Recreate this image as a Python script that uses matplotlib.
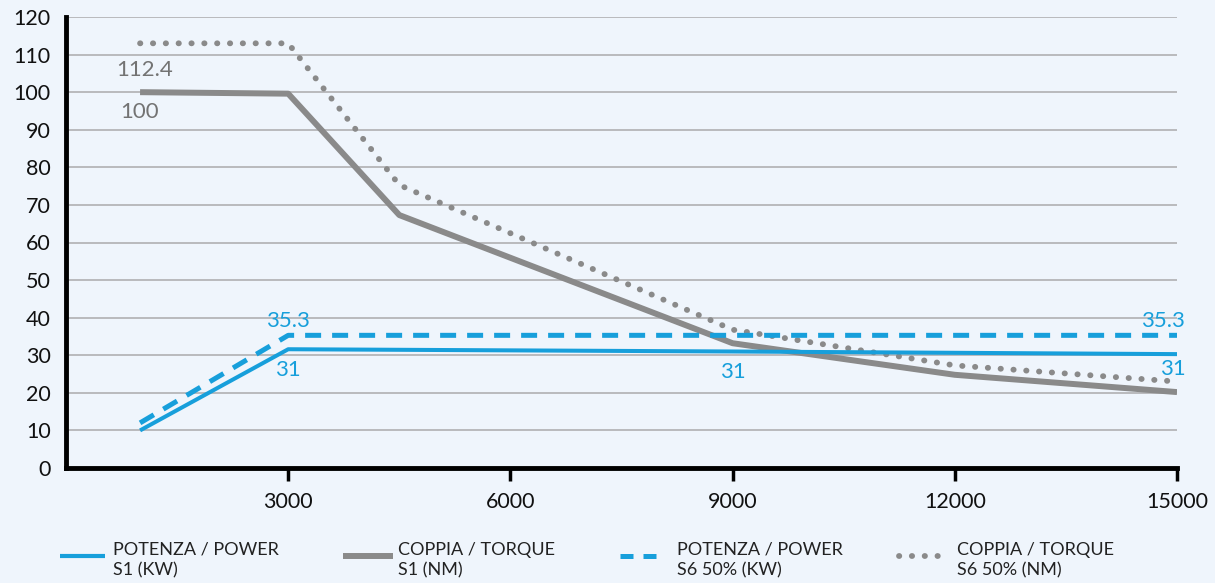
import matplotlib
matplotlib.use("Agg")
import matplotlib.pyplot as plt
from matplotlib.lines import Line2D

plt.rcParams['font.family'] = ['Lato', 'DejaVu Sans']

# ---- data ----
rpm_power_s1 = [1000, 3000, 9000, 15000]
power_s1 = [10, 31.6, 31, 30.3]
rpm_power_s6 = [1000, 3000, 15000]
power_s6 = [12, 35.3, 35.3]
rpm_torque = [1000, 3000, 4500, 9000, 12000, 15000]
torque_s1 = [100, 99.6, 67.3, 33.2, 24.8, 20.2]
torque_s6 = [113, 113, 75.3, 36.8, 27.3, 23]
x_ticks = [3000, 6000, 9000, 12000, 15000]
y_ticks = list(range(0, 121, 10))
legend_labels = ["POTENZA / POWER\nS1 (KW)", "COPPIA / TORQUE\nS1 (NM)",
                 "POTENZA / POWER\nS6 50% (KW)", "COPPIA / TORQUE\nS6 50% (NM)"]
annotations = [  # (x, y, text, series)
    (1000, 113, "112.4", "gray"), (1000, 100, "100", "gray"),
    (3000, 35.3, "35.3", "blue"), (3000, 31.6, "31", "blue"),
    (9000, 31, "31", "blue"), (15000, 35.3, "35.3", "blue"), (15000, 30.3, "31", "blue"),
]

BLUE = "#179fdb"
GRAY = "#8a8a8a"
LGRAY = "#737373"
BG = "#eff5fc"

fig = plt.figure(figsize=(12.15, 5.83), dpi=100, facecolor=BG)
ax = fig.add_axes([66/1215, (583-468)/583, (1177-66)/1215, (468-17)/583])
ax.set_facecolor(BG)

ax.set_xlim(0, 15000)
ax.set_ylim(0, 120)
ax.set_yticks(y_ticks)
ax.set_xticks(x_ticks)
ax.grid(axis='y', color='#b5b5b8', linewidth=1.3)
ax.set_axisbelow(True)
for s in ['top', 'right']:
    ax.spines[s].set_visible(False)
for s in ['left', 'bottom']:
    ax.spines[s].set_linewidth(3.5)
    ax.spines[s].set_color('black')
ax.tick_params(axis='y', length=0, pad=11, labelsize=15.5, labelcolor='#111111')
ax.tick_params(axis='x', length=9, width=2.5, direction='out', pad=8, labelsize=15.5, labelcolor='#111111')

ax.plot(rpm_power_s1, power_s1, color=BLUE, lw=2.9, solid_capstyle='butt', zorder=4)
ax.plot(rpm_torque, torque_s1, color=GRAY, lw=4.3, solid_capstyle='butt', zorder=3)
ax.plot(rpm_power_s6, power_s6, color=BLUE, lw=3.6, linestyle=(0, (3.2, 2.2)),
        dash_capstyle='butt', zorder=4)
ax.plot(rpm_torque, torque_s6, color=GRAY, lw=4.2, linestyle=(0, (0.05, 2.15)),
        dash_capstyle='round', zorder=3)

for (x, y, t, c) in annotations:
    col = LGRAY if c == "gray" else BLUE
    if t == "112.4":
        ax.annotate(t, (x, y), xytext=(-17, -19), textcoords='offset points', ha='left',
                    va='center', fontsize=16, color=col)
    elif t == "100":
        ax.annotate(t, (x, y), xytext=(-14, -14), textcoords='offset points', ha='left',
                    va='center', fontsize=16, color=col)
    elif x == 15000:
        dy = 10 if t == "35.3" else -11
        ax.annotate(t, (x, y), xytext=(6, dy), textcoords='offset points', ha='right',
                    va='center', fontsize=16, color=col, annotation_clip=False)
    else:
        dy = 10 if t == "35.3" else -15
        ax.annotate(t, (x, y), xytext=(0, dy), textcoords='offset points', ha='center',
                    va='center', fontsize=16, color=col)

# ---- legend (manual, figure coords) ----
W, H = 1215, 583
entries = [
    (60, 105, 113, dict(color=BLUE, lw=3.0, solid_capstyle='butt')),
    (343, 393, 398, dict(color=GRAY, lw=4.3, solid_capstyle='butt')),
    (620, 665, 677, dict(color=BLUE, lw=3.6, linestyle=(0, (2.6, 2.0)), dash_capstyle='butt')),
    (899, 945, 957, dict(color=GRAY, lw=4.2, linestyle=(0, (0.05, 2.15)), dash_capstyle='round')),
]
ly = 583 - 556
for (x0, x1, tx, st), lab in zip(entries, legend_labels):
    fig.add_artist(Line2D([x0/W, x1/W], [ly/H, ly/H], transform=fig.transFigure, **st))
    fig.text(tx/W, (583-560)/H, lab, fontsize=13, color='#222222', ha='left', va='center',
             linespacing=1.3)

fig.savefig("out.png", dpi=100, facecolor=BG)
